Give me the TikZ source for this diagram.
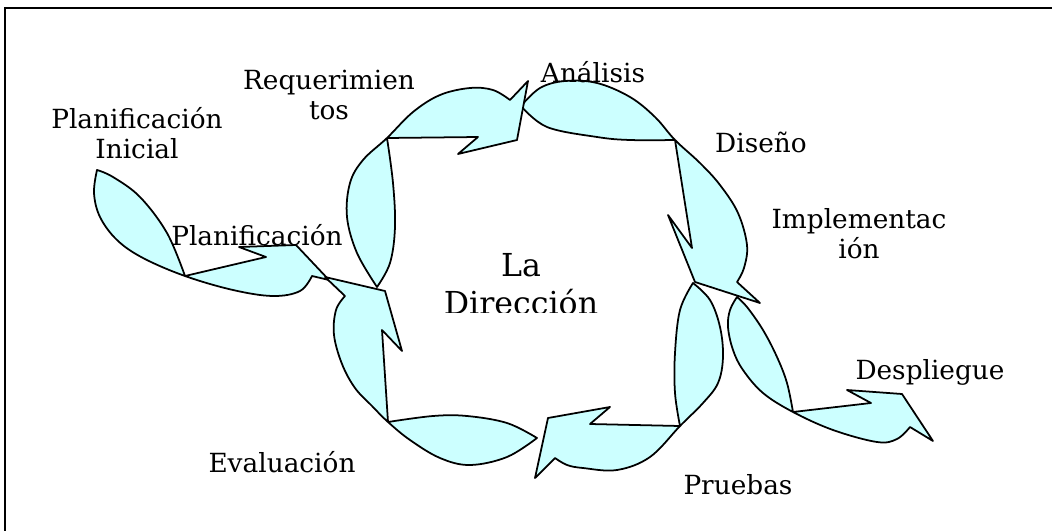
\documentclass[tikz,border=0pt]{standalone}
\usepackage{fontspec}
\setmainfont{DejaVu Serif}
\usetikzlibrary{positioning}
\definecolor{ciclofill}{RGB}{204,255,255}
\definecolor{cicloedge}{RGB}{0,0,0}
\tikzset{
  band/.style={fill=ciclofill, draw=cicloedge, line width=1pt, line join=round},
  lbl/.style={inner sep=0pt, align=center, font=\fontsize{15}{17}\selectfont},
  hub/.style={inner sep=0pt, align=center, font=\fontsize{18}{21.5}\selectfont},
  marco/.style={draw=black, line width=1.2pt}
}
\begin{document}
\begin{tikzpicture}[x=0.02cm, y=-0.02cm, smooth/.append style={tension=0.6}]
  \useasboundingbox (0,0) rectangle (1052,531);
  % frame, only top and left edges are shown
  \draw[marco] (5,531) -- (5,8) -- (1052,8);

  % Planificacion Inicial -> Planificacion
  \filldraw[band] plot[smooth] coordinates {(97,170) (94,193) (100,217) (117,240) (143,258) (185,276) (233,290) (273,296) (300,291) (312,276)}
    -- (329,280) -- (296,245) -- (239,247) -- (266,257)
    -- plot[smooth] coordinates {(185,276) (167,233) (140,197) (113,177) (97,170)} -- cycle;
  % Evaluacion -> Planificacion (left, upwards)
  \filldraw[band] plot[smooth] coordinates {(537,438) (507,457) (470,465) (440,458) (410,440) (388,422) (372,406) (355,388) (342,364) (334,335) (336,310) (345,296)}
    -- (325,277) -- (385,291) -- (402,351) -- (382,330)
    -- plot[smooth] coordinates {(388,422) (433,416) (467,416) (507,423) (537,438)} -- cycle;
  % Analisis -> Implementacion (right, downwards)
  \filldraw[band] plot[smooth] coordinates {(521,106) (540,88) (565,81) (597,83) (630,97) (655,117) (675,140) (700,163) (720,185) (738,213) (747,245) (744,268) (737,282)}
    -- (760,303) -- (695,282) -- (668,215) -- (692,248)
    -- plot[smooth] coordinates {(675,140) (630,140) (597,137) (547,127) (521,106)} -- cycle;
  % Requerimientos -> Analisis (top, rightwards)
  \filldraw[band] plot[smooth] coordinates {(377,287) (357,253) (347,217) (350,183) (363,160) (387,138) (413,112) (440,95) (470,88) (493,90) (510,100)}
    -- (528,81) -- (517,140) -- (458,154) -- (478,137)
    -- plot[smooth] coordinates {(387,138) (393,183) (395,227) (390,263) (377,287)} -- cycle;
  % Implementacion -> Pruebas (bottom, leftwards)
  \filldraw[band] plot[smooth] coordinates {(693,283) (710,300) (720,327) (723,357) (718,383) (703,403) (680,426) (650,457) (617,470) (583,468) (567,465) (555,458)}
    -- (535,478) -- (548,418) -- (610,407) -- (590,424)
    -- plot[smooth] coordinates {(680,426) (675,393) (675,353) (680,310) (693,283)} -- cycle;
  % Implementacion -> Despliegue
  \filldraw[band] plot[smooth] coordinates {(737,297) (730,310) (728,327) (733,350) (743,370) (763,393) (793,412) (833,430) (877,442) (897,439) (910,427)}
    -- (933,441) -- (902,394) -- (847,390) -- (871,403)
    -- plot[smooth] coordinates {(793,412) (787,383) (777,357) (763,330) (747,307) (737,297)} -- cycle;

  % labels
  \node[lbl] (plini) at (137,133) {Planificación\\Inicial};
  \node[lbl] (plan) at (257,235) {Planificación};
  \node[lbl] (req) at (329,95) {Requerimien\\tos};
  \node[lbl] (ana) at (593,72) {Análisis};
  \node[lbl] (dis) at (761,142) {Diseño};
  \node[lbl] (impl) at (859,234) {Implementac\\ión};
  \node[lbl] (desp) at (930,372) {Despliegue};
  \node[lbl] (prue) at (738,485) {Pruebas};
  \node[lbl] (eval) at (282,462) {Evaluación};
  \begin{scope}
    \clip (400,200) rectangle (650,312);
    \node[hub] (dir) at (521,284) {La\\Dirección};
  \end{scope}
\end{tikzpicture}
\end{document}
